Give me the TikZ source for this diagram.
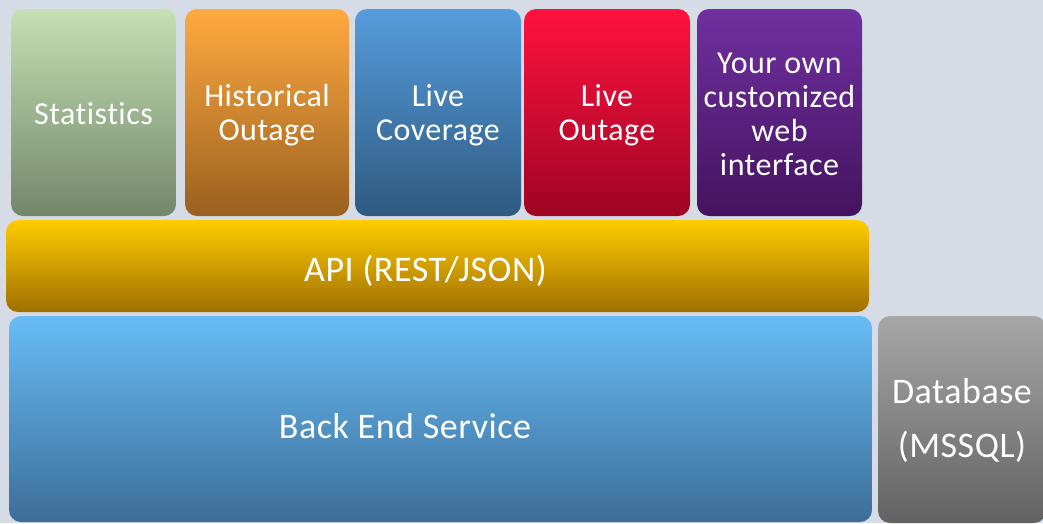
\documentclass[tikz,border=0pt]{standalone}
\usepackage{fontspec}
\setmainfont[Ligatures=NoCommon, LetterSpace=1.5]{Carlito}
\definecolor{bgcol}{HTML}{D6DCE5}
\definecolor{statTop}{HTML}{C5E0B4}
\definecolor{statBot}{HTML}{728769}
\definecolor{histTop}{HTML}{FFAA40}
\definecolor{histBot}{HTML}{9A601F}
\definecolor{covTop}{HTML}{569CDD}
\definecolor{covBot}{HTML}{2E5A80}
\definecolor{outTop}{HTML}{FF1240}
\definecolor{outBot}{HTML}{9E0422}
\definecolor{ownTop}{HTML}{7030A0}
\definecolor{ownBot}{HTML}{44135E}
\definecolor{apiTop}{HTML}{FFCC00}
\definecolor{apiMid}{HTML}{EBAD00}
\definecolor{apiBot}{HTML}{A07000}
\definecolor{besTop}{HTML}{66BCF6}
\definecolor{besBot}{HTML}{3D6D98}
\definecolor{dbTop}{HTML}{A7A7A7}
\definecolor{dbBot}{HTML}{626262}
\begin{document}
\begin{tikzpicture}[x=1pt,y=-1pt]
		\tikzset{tile/.style={rounded corners=12pt, inner sep=0pt},
			tiletext/.style={text=white, inner sep=0pt, align=center, font=\fontsize{32}{34}\selectfont},
			lbl/.style={text=white, inner sep=0pt, align=center, font=\fontsize{36}{54}\selectfont}}
		\useasboundingbox (0,0) rectangle (1043,523);
		\fill[bgcol] (0,0) rectangle (1043,523);
		\clip (0,0) rectangle (1043,523);
		% top row
		\node[tile, top color=statTop, bottom color=statBot, minimum width=165pt, minimum height=207pt] (stats) at (93.5,112.5) {};
		\node[tile, top color=histTop, bottom color=histBot, minimum width=164pt, minimum height=207pt] (hist) at (267,112.5) {};
		\node[tile, top color=covTop, bottom color=covBot, minimum width=166pt, minimum height=207pt] (cov) at (438,112.5) {};
		\node[tile, top color=outTop, bottom color=outBot, minimum width=166pt, minimum height=207pt] (outage) at (607,112.5) {};
		\node[tile, top color=ownTop, bottom color=ownBot, minimum width=165pt, minimum height=207pt] (own) at (779.5,112.5) {};
		\node[tiletext] (statstext) at ([yshift=-1pt]stats.center) {Statistics};
		\node[tiletext] (histtext) at ([yshift=-3pt]hist.center) {Historical\\Outage};
		\node[tiletext] (covtext) at ([yshift=-3pt]cov.center) {Live\\Coverage};
		\node[tiletext] (outtext) at ([yshift=-3pt]outage.center) {Live\\Outage};
		\node[tiletext] (owntext) at ([yshift=-2pt]own.center) {Your own\\customized\\web\\interface};
		% api and back end
		\node[tile, top color=apiTop, middle color=apiMid, bottom color=apiBot, minimum width=863pt, minimum height=92pt] (api) at (437.5,266) {};
		\node[lbl] (apitext) at (425.5,271) {API (REST/JSON)};
		\node[tile, top color=besTop, bottom color=besBot, minimum width=863pt, minimum height=206pt] (bes) at (440.5,419) {};
		\node[lbl] (bestext) at (405,426) {Back End Service};
		\node[tile, top color=dbTop, bottom color=dbBot, minimum width=168pt, minimum height=207pt] (db) at (962,419.5) {};
		\node[lbl] (dbtext) at ([yshift=-1pt]db.center) {Database\\(MSSQL)};
\end{tikzpicture}
\end{document}
